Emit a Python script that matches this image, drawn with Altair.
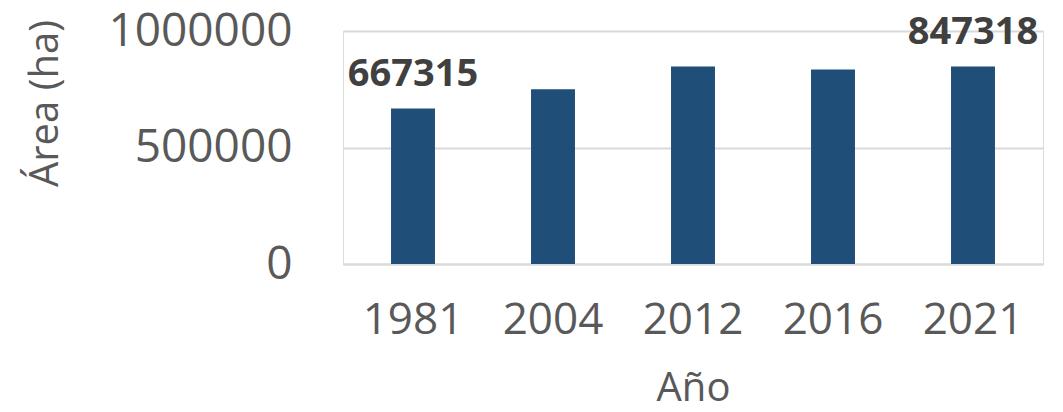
import altair as alt
import pandas as pd

years = ["1981", "2004", "2012", "2016", "2021"]
areas = [667315, 750000, 848000, 835000, 847318]
show_label = [True, False, False, False, True]

df = pd.DataFrame({"Año": years, "Área": areas, "show": show_label})

FONT = "Open Sans"
TXT = "#595959"

base = alt.Chart(df).encode(
    x=alt.X("Año:N", sort=years,
            scale=alt.Scale(paddingInner=0.686, paddingOuter=0.343),
            axis=alt.Axis(title="Año", labelAngle=0, labelFontSize=44, titleFontSize=40,
                          labelFont=FONT, titleFont=FONT, labelColor=TXT, titleColor=TXT,
                          titleFontWeight="normal", ticks=False, labelPadding=34,
                          domainColor="#d9d9d9", domainWidth=2, titleY=104)),
    y=alt.Y("Área:Q", scale=alt.Scale(domain=[0, 1000000]),
            axis=alt.Axis(title="Área (ha)", values=[0, 500000, 1000000], format="d",
                          labelFontSize=46, labelLimit=400, titleFontSize=40,
                          labelFont=FONT, titleFont=FONT,
                          labelColor=TXT, titleColor=TXT, titleFontWeight="normal",
                          ticks=False, domain=False, labelPadding=51,
                          gridColor="#d9d9d9", gridWidth=2,
                          titleX=-278, titleY=72)),
)

bars = base.mark_bar(color="#1F4E79")
labels = base.transform_filter("datum.show").mark_text(
    dy=-34, fontSize=38, fontWeight="bold", font=FONT, color="#404040"
).encode(text=alt.Text("Área:Q", format="d"))

chart = (bars + labels).properties(
    width=700, height=233,
    autosize=alt.AutoSizeParams(type="none"),
    padding={"left": 335, "top": 23, "right": 12, "bottom": 145},
).configure_view(stroke=None).configure(background="white")

chart.save("out.html", embed_options={"renderer": "svg", "actions": False})
